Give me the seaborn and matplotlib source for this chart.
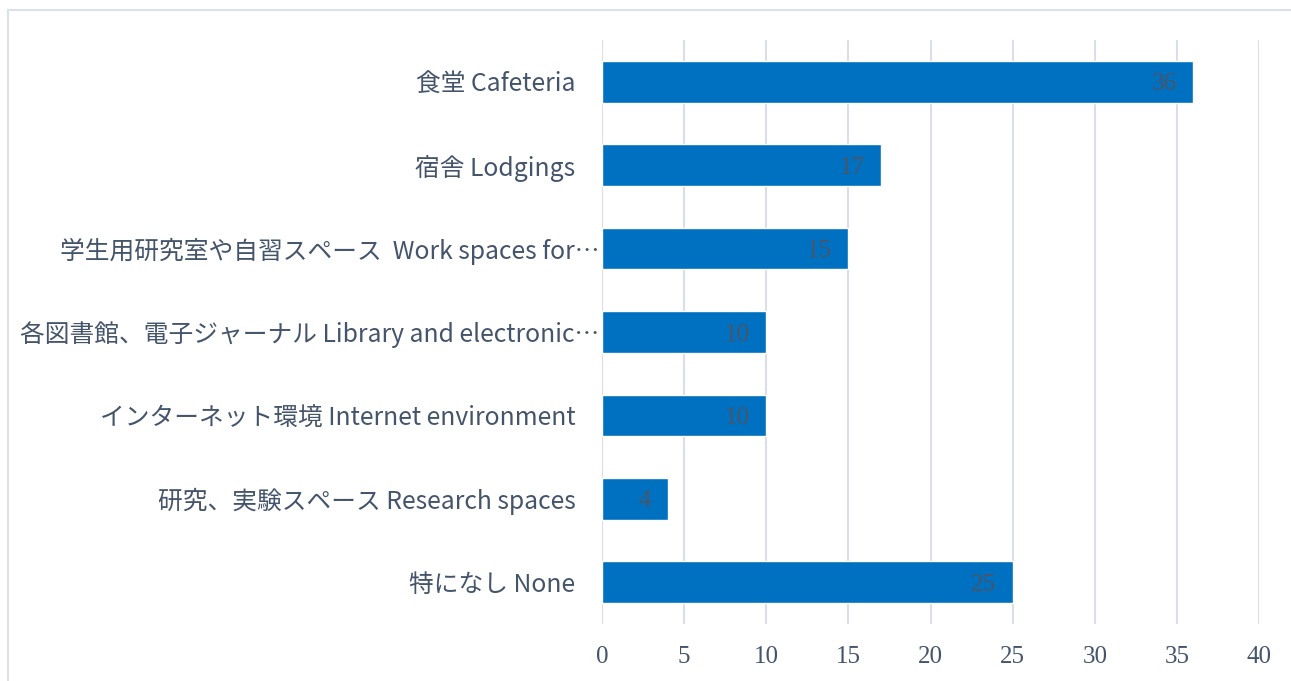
import numpy as np
import pandas as pd
import matplotlib
matplotlib.use("Agg")
import matplotlib.pyplot as plt
import matplotlib.transforms as mtransforms
from matplotlib.patches import Rectangle
import seaborn as sns

categories = [
    "食堂 Cafeteria",
    "宿舎 Lodgings",
    "学生用研究室や自習スペース  Work spaces for…",
    "各図書館、電子ジャーナル Library and electronic…",
    "インターネット環境 Internet environment",
    "研究、実験スペース Research spaces",
    "特になし None",
]
counts = [36, 17, 15, 10, 10, 4, 25]
x_ticks = [0, 5, 10, 15, 20, 25, 30, 35, 40]

sns.set_theme(style="white")
plt.rcParams["font.family"] = ["Noto Sans CJK JP", "DejaVu Sans"]

text_color = "#44546A"
grid_color = "#D9DEE8"
bar_color = "#0070C0"

df = pd.DataFrame({"category": categories, "count": counts})

fig = plt.figure(figsize=(12.91, 6.81), dpi=100)
ax = fig.add_axes([602 / 1291, 1 - 624 / 681, (1259 - 602) / 1291, (624 - 40) / 681])

# outer chart frame
fig.patches.append(
    Rectangle((8 / 1291, -0.05), 1.1, 1 - 10 / 681 + 0.05,
              transform=fig.transFigure, fill=False,
              edgecolor="#DCE0E8", linewidth=1.5, zorder=0)
)

sns.barplot(data=df, x="count", y="category", color=bar_color,
            saturation=1, width=0.5, ax=ax, orient="h", zorder=3)

ax.set_xlim(0, 40)
ax.set_xticks(x_ticks)
ax.set_xticklabels([str(t) for t in x_ticks], family="Liberation Serif",
                   fontsize=18, color=text_color)
ax.grid(axis="x", color=grid_color, linewidth=1.5, zorder=0)
ax.grid(axis="y", visible=False)
for s in ax.spines.values():
    s.set_visible(False)

ax.tick_params(axis="x", length=5, width=1.5, color=grid_color, pad=11)
ax.tick_params(axis="y", length=0, pad=19, labelsize=17.8, labelcolor=text_color)
ax.set_xlabel("")
ax.set_ylabel("")

# truncated labels sit closer to the axis
for lab in ax.get_yticklabels():
    if lab.get_text().endswith("…"):
        off = mtransforms.ScaledTranslation(24 / 100, 0, fig.dpi_scale_trans)
        lab.set_transform(lab.get_transform() + off)

for cont in ax.containers:
    texts = ax.bar_label(cont, labels=[str(v) for v in counts], label_type="edge",
                         padding=-12, family="Liberation Serif", fontsize=18,
                         color="#4A5568")
    for t in texts:
        t.set_ha("right")
        t.set_va("center_baseline")

fig.savefig("out.png", dpi=100)
